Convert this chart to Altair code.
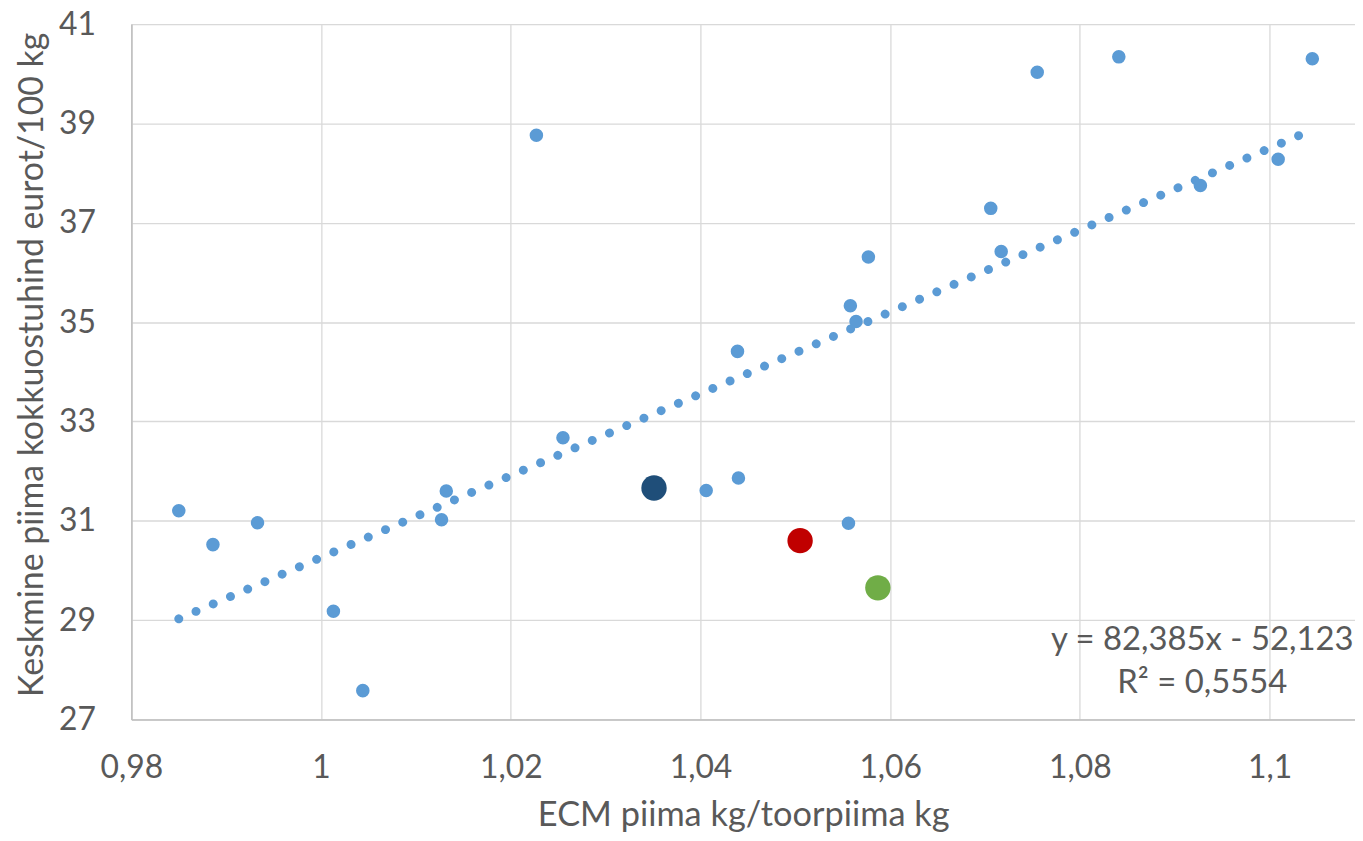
import altair as alt
import pandas as pd

# Farm data points (ECM milk kg / raw milk kg, average milk price EUR/100 kg)
x_vals = [0.9850, 0.9886, 0.9933, 1.0013, 1.0044, 1.0127, 1.0132, 1.0227, 1.0255,
          1.0406, 1.0440, 1.0439, 1.0556, 1.0558, 1.0564, 1.0577, 1.0706, 1.0717,
          1.0755, 1.0841, 1.0927, 1.1009, 1.1045]
y_vals = [31.20, 30.52, 30.96, 29.18, 27.58, 31.02, 31.60, 38.76, 32.67,
          31.61, 31.86, 34.41, 30.95, 35.33, 35.01, 36.31, 37.29, 36.42,
          40.03, 40.34, 37.75, 38.28, 40.30]

# Highlighted points
hl_x = [1.0351, 1.0505, 1.0587]
hl_y = [31.66, 30.60, 29.65]
hl_group = ["A", "B", "C"]
hl_colors = ["#1F4E79", "#C00000", "#70AD47"]

# Linear trendline (from the displayed equation)
slope = 82.385
intercept = -52.123
trend_x = [0.985, 1.1045]

eq_lines = ["y = 82,385x - 52,123", "R² = 0,5554"]
eq_x = [1.0929, 1.0929]
eq_y = [28.60, 27.74]

x_ticks = [0.98, 1.0, 1.02, 1.04, 1.06, 1.08, 1.1]
y_ticks = [27, 29, 31, 33, 35, 37, 39, 41]

FONT = "Lato"
TXT = "#595959"

pts = pd.DataFrame({"x": x_vals, "y": y_vals})
hl = pd.DataFrame({"x": hl_x, "y": hl_y, "g": hl_group})
tr = pd.DataFrame({"x": trend_x})
eq = pd.DataFrame({"x": eq_x, "y": eq_y, "t": eq_lines})

xscale = alt.Scale(domain=[0.98, 1.109], nice=False, zero=False)
yscale = alt.Scale(domain=[27, 41], nice=False, zero=False)

xaxis = alt.Axis(
    values=x_ticks, title="ECM piima kg/toorpiima kg",
    labelExpr="replace(toString(datum.value), '.', ',')",
    grid=True, gridColor="#D9D9D9", gridWidth=1.3,
    domainColor="#BFBFBF", domainWidth=1.5, ticks=False,
    labelFont=FONT, labelFontSize=32, labelColor=TXT, labelPadding=33,
    titleFont=FONT, titleFontSize=34.5, titleColor=TXT, titleFontWeight="normal",
    titlePadding=16, labelFlush=False,
)
yaxis = alt.Axis(
    values=y_ticks, title="Keskmine piima kokkuostuhind eurot/100 kg",
    grid=True, gridColor="#D9D9D9", gridWidth=1.3,
    domainColor="#BFBFBF", domainWidth=1.5, ticks=False,
    labelFont=FONT, labelFontSize=32, labelColor=TXT, labelPadding=36,
    titleFont=FONT, titleFontSize=34, titleColor=TXT, titleFontWeight="normal",
    titlePadding=9, labelFlush=False, titleY=342,
)

base_pts = alt.Chart(pts).mark_circle(size=185, opacity=1, color="#5B9BD5").encode(
    x=alt.X("x:Q", scale=xscale, axis=xaxis),
    y=alt.Y("y:Q", scale=yscale, axis=yaxis),
)

trend = alt.Chart(tr).transform_calculate(
    y=f"{slope} * datum.x + ({intercept})"
).mark_line(
    color="#5B9BD5", strokeWidth=9, strokeCap="round", strokeDash=[0.01, 18.85]
).encode(
    x=alt.X("x:Q", scale=xscale),
    y=alt.Y("y:Q", scale=yscale),
)

hl_pts = alt.Chart(hl).mark_circle(size=650, opacity=1).encode(
    x=alt.X("x:Q", scale=xscale),
    y=alt.Y("y:Q", scale=yscale),
    color=alt.Color("g:N", scale=alt.Scale(domain=hl_group, range=hl_colors), legend=None),
)

eq_text = alt.Chart(eq).mark_text(
    font=FONT, fontSize=33, color=TXT, align="center", baseline="middle"
).encode(
    x=alt.X("x:Q", scale=xscale),
    y=alt.Y("y:Q", scale=yscale),
    text="t:N",
)

chart = alt.layer(base_pts, trend, hl_pts, eq_text).properties(
    width=1230, height=699,
    autosize=alt.AutoSizeParams(type="none"),
    padding={"left": 124, "top": 14, "right": 0, "bottom": 113},
).configure_view(stroke=None).configure(background="white")

chart.save("out.html", embed_options={"renderer": "svg", "actions": False})
